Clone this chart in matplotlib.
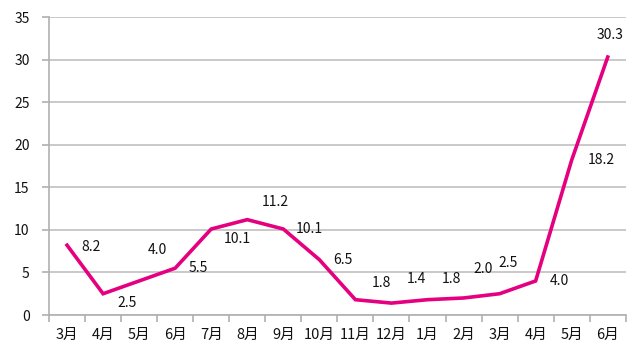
import matplotlib
matplotlib.use("Agg")
import matplotlib.pyplot as plt

months = ["3月", "4月", "5月", "6月", "7月", "8月", "9月", "10月", "11月", "12月",
          "1月", "2月", "3月", "4月", "5月", "6月"]
values = [8.2, 2.5, 4.0, 5.5, 10.1, 11.2, 10.1, 6.5, 1.8, 1.4, 1.8, 2.0, 2.5, 4.0, 18.2, 30.3]
yticks = [0, 5, 10, 15, 20, 25, 30, 35]

# label offsets from each point, in points (x right, y up)
label_offsets = [(17, -1), (17, -7), (13, 22), (17, 0), (19, -7), (20, 13), (19, 0), (17, 0),
                 (19, 12), (18, 17), (17, 15), (14, 21), (6, 22), (17, 0), (21, 0), (2, 16)]

plt.rcParams['font.family'] = ['Noto Sans CJK JP', 'DejaVu Sans']

fig = plt.figure(figsize=(6.34, 3.43), dpi=100)
ax = fig.add_axes([0.0773, 0.0816, 0.9097, 0.8688])

x = list(range(len(months)))
ax.plot(x, values, color="#E4007F", linewidth=2.6, solid_joinstyle="miter", zorder=3)

for xi, v, (dx, dy) in zip(x, values, label_offsets):
    ax.annotate(f"{v:.1f}", (xi, v), xytext=(dx, dy), textcoords="offset points",
                ha="center", va="center", fontsize=10, color="#111111", zorder=4)

ax.set_xlim(-0.5, len(months) - 0.5)
ax.set_ylim(0, 35)
ax.set_yticks(yticks)
ax.set_yticklabels([str(t) for t in yticks])
ax.set_xticks(x)
ax.set_xticklabels(months)
ax.set_xticks([i - 0.5 for i in range(len(months) + 1)], minor=True)

ax.grid(axis="y", color="#C0C0C0", linewidth=1.2, zorder=0)
ax.set_axisbelow(True)

for side in ("top", "right"):
    ax.spines[side].set_visible(False)
for side in ("left", "bottom"):
    ax.spines[side].set_color("#B0B0B0")
    ax.spines[side].set_linewidth(1.2)

ax.tick_params(axis="x", which="major", length=0, pad=9, labelsize=10.5, colors="#111111")
ax.tick_params(axis="x", which="minor", length=5, width=1.2, color="#B0B0B0")
ax.tick_params(axis="y", which="major", length=5, width=1.2, color="#B0B0B0",
               pad=9, labelsize=10, labelcolor="#111111")

fig.savefig("out.png", dpi=100, facecolor="white")
